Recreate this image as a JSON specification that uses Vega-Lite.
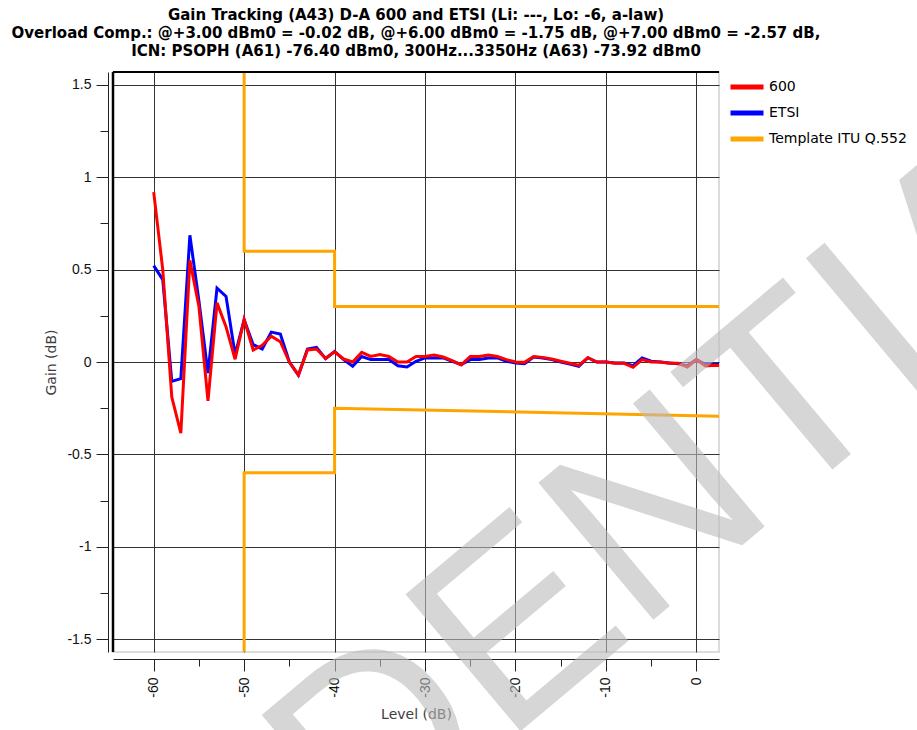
{
  "$schema": "https://vega.github.io/schema/vega-lite/v6.json",
  "width": 606,
  "height": 580,
  "autosize": {"type": "none"},
  "padding": {"left": 113, "top": 72, "right": 198, "bottom": 78},
  "background": "white",
  "title": {
    "text": [
      "Gain Tracking (A43) D-A 600 and ETSI (Li: ---, Lo: -6, a-law)",
      "Overload Comp.: @+3.00 dBm0 = -0.02 dB, @+6.00 dBm0 = -1.75 dB, @+7.00 dBm0 = -2.57 dB,",
      "ICN: PSOPH (A61) -76.40 dBm0, 300Hz...3350Hz (A63) -73.92 dBm0"
    ],
    "font": "DejaVu Sans",
    "fontSize": 15,
    "fontWeight": "bold",
    "color": "#000000",
    "lineHeight": 18,
    "offset": -58,
    "anchor": "middle"
  },
  "config": {
    "view": {"stroke": "#dcdcdc", "strokeWidth": 2},
    "axis": {
      "labelFont": "Liberation Sans",
      "labelFontSize": 14,
      "labelColor": "#111111",
      "titleFont": "DejaVu Sans",
      "titleFontSize": 14,
      "titleFontWeight": "normal",
      "titleColor": "#404040",
      "domainColor": "#222222",
      "tickColor": "#222222",
      "gridColor": "#333333",
      "gridWidth": 1
    },
    "legend": {
      "orient": "right",
      "offset": 2,
      "padding": 7,
      "symbolType": "stroke",
      "symbolStrokeWidth": 5,
      "symbolSize": 1089,
      "labelFont": "DejaVu Sans",
      "labelFontSize": 14,
      "labelColor": "#000000",
      "labelOffset": 3,
      "rowPadding": 10,
      "clipHeight": 16
    }
  },
  "datasets": {
    "d600": [
      {"level": -60, "gain": 0.92}, {"level": -59, "gain": 0.5}, {"level": -58, "gain": -0.19}, {"level": -57, "gain": -0.385},
      {"level": -56, "gain": 0.55}, {"level": -55, "gain": 0.3}, {"level": -54, "gain": -0.21}, {"level": -53, "gain": 0.32},
      {"level": -52, "gain": 0.19}, {"level": -51, "gain": 0.015}, {"level": -50, "gain": 0.23}, {"level": -49, "gain": 0.065},
      {"level": -48, "gain": 0.09}, {"level": -47, "gain": 0.14}, {"level": -46, "gain": 0.11}, {"level": -45, "gain": 0.0},
      {"level": -44, "gain": -0.07}, {"level": -43, "gain": 0.065}, {"level": -42, "gain": 0.07}, {"level": -41, "gain": 0.02},
      {"level": -40, "gain": 0.055}, {"level": -39, "gain": 0.016}, {"level": -38, "gain": 0.0}, {"level": -37, "gain": 0.052},
      {"level": -36, "gain": 0.03}, {"level": -35, "gain": 0.04}, {"level": -34, "gain": 0.03}, {"level": -33, "gain": 0.0},
      {"level": -32, "gain": 0.0}, {"level": -31, "gain": 0.03}, {"level": -30, "gain": 0.03}, {"level": -29, "gain": 0.038},
      {"level": -28, "gain": 0.027}, {"level": -27, "gain": 0.007}, {"level": -26, "gain": -0.016}, {"level": -25, "gain": 0.03},
      {"level": -24, "gain": 0.03}, {"level": -23, "gain": 0.038}, {"level": -22, "gain": 0.03}, {"level": -21, "gain": 0.013},
      {"level": -20, "gain": 0.0}, {"level": -19, "gain": -0.002}, {"level": -18, "gain": 0.03}, {"level": -17, "gain": 0.025},
      {"level": -16, "gain": 0.016}, {"level": -15, "gain": 0.004}, {"level": -14, "gain": -0.007}, {"level": -13, "gain": -0.018},
      {"level": -12, "gain": 0.023}, {"level": -11, "gain": 0.0}, {"level": -10, "gain": 0.0}, {"level": -9, "gain": -0.007},
      {"level": -8, "gain": -0.007}, {"level": -7, "gain": -0.029}, {"level": -6, "gain": 0.013}, {"level": -5, "gain": 0.0},
      {"level": -4, "gain": 0.0}, {"level": -3, "gain": -0.007}, {"level": -2, "gain": -0.007}, {"level": -1, "gain": -0.027},
      {"level": 0, "gain": 0.013}, {"level": 1, "gain": -0.022}, {"level": 2, "gain": -0.018}, {"level": 3, "gain": -0.02}
    ],
    "detsi": [
      {"level": -60, "gain": 0.522}, {"level": -59, "gain": 0.446}, {"level": -58, "gain": -0.105}, {"level": -57, "gain": -0.09},
      {"level": -56, "gain": 0.686}, {"level": -55, "gain": 0.33}, {"level": -54, "gain": -0.06}, {"level": -53, "gain": 0.4},
      {"level": -52, "gain": 0.355}, {"level": -51, "gain": 0.04}, {"level": -50, "gain": 0.229}, {"level": -49, "gain": 0.094},
      {"level": -48, "gain": 0.07}, {"level": -47, "gain": 0.162}, {"level": -46, "gain": 0.152}, {"level": -45, "gain": 0.0},
      {"level": -44, "gain": -0.072}, {"level": -43, "gain": 0.07}, {"level": -42, "gain": 0.079}, {"level": -41, "gain": 0.018},
      {"level": -40, "gain": 0.057}, {"level": -39, "gain": 0.013}, {"level": -38, "gain": -0.023}, {"level": -37, "gain": 0.03},
      {"level": -36, "gain": 0.013}, {"level": -35, "gain": 0.013}, {"level": -34, "gain": 0.013}, {"level": -33, "gain": -0.02},
      {"level": -32, "gain": -0.027}, {"level": -31, "gain": 0.004}, {"level": -30, "gain": 0.022}, {"level": -29, "gain": 0.022},
      {"level": -28, "gain": 0.022}, {"level": -27, "gain": 0.004}, {"level": -26, "gain": -0.014}, {"level": -25, "gain": 0.013},
      {"level": -24, "gain": 0.013}, {"level": -23, "gain": 0.022}, {"level": -22, "gain": 0.022}, {"level": -21, "gain": 0.004},
      {"level": -20, "gain": -0.005}, {"level": -19, "gain": -0.009}, {"level": -18, "gain": 0.027}, {"level": -17, "gain": 0.022},
      {"level": -16, "gain": 0.013}, {"level": -15, "gain": 0.0}, {"level": -14, "gain": -0.011}, {"level": -13, "gain": -0.023},
      {"level": -12, "gain": 0.023}, {"level": -11, "gain": 0.0}, {"level": -10, "gain": 0.0}, {"level": -9, "gain": -0.005},
      {"level": -8, "gain": -0.005}, {"level": -7, "gain": -0.02}, {"level": -6, "gain": 0.022}, {"level": -5, "gain": 0.004},
      {"level": -4, "gain": 0.0}, {"level": -3, "gain": -0.005}, {"level": -2, "gain": -0.009}, {"level": -1, "gain": -0.02},
      {"level": 0, "gain": 0.013}, {"level": 1, "gain": -0.014}, {"level": 2, "gain": -0.014}, {"level": 3, "gain": -0.014}
    ],
    "tmpl": [
      {"level": -50, "gain": 2.0, "part": "upper"}, {"level": -50, "gain": 0.6, "part": "upper"},
      {"level": -40, "gain": 0.6, "part": "upper"}, {"level": -40, "gain": 0.3, "part": "upper"},
      {"level": 3, "gain": 0.3, "part": "upper"},
      {"level": -50, "gain": -2.0, "part": "lower"}, {"level": -50, "gain": -0.6, "part": "lower"},
      {"level": -40, "gain": -0.6, "part": "lower"}, {"level": -40, "gain": -0.25, "part": "lower"},
      {"level": 3, "gain": -0.294, "part": "lower"}
    ],
    "one": [{"label": "CONFIDENTIAL"}]
  },
  "layer": [
    {
      "data": {"name": "tmpl"},
      "transform": [{"calculate": "'Template ITU Q.552'", "as": "series"}],
      "mark": {"type": "line", "strokeWidth": 3, "clip": true},
      "encoding": {
        "x": {
          "field": "level",
          "type": "quantitative",
          "scale": {"domain": [-64.5, 2.5], "nice": false, "zero": false},
          "axis": {
            "title": "Level (dB)",
            "values": [-60, -55, -50, -45, -40, -35, -30, -25, -20, -15, -10, -5, 0],
            "offset": 7,
            "labelAngle": 270,
            "labelPadding": 6,
            "labelExpr": "datum.value % 10 != 0 ? '' : '' + datum.value",
            "tickSize": {"condition": {"test": "datum.value % 10 != 0", "value": 7}, "value": 12},
            "gridOpacity": {"condition": {"test": "datum.value % 10 != 0", "value": 0}, "value": 1},
            "grid": true,
            "titlePadding": 10
          }
        },
        "y": {
          "field": "gain",
          "type": "quantitative",
          "scale": {"domain": [-1.57, 1.57], "nice": false, "zero": false},
          "axis": {
            "title": "Gain (dB)",
            "values": [-1.5, -1.25, -1, -0.75, -0.5, -0.25, 0, 0.25, 0.5, 0.75, 1, 1.25, 1.5],
            "offset": 5,
            "labelPadding": 5,
            "labelExpr": "datum.value % 0.5 != 0 ? '' : '' + datum.value",
            "tickSize": {"condition": {"test": "datum.value % 0.5 != 0", "value": 8}, "value": 12},
            "gridOpacity": {"condition": {"test": "datum.value % 0.5 != 0", "value": 0}, "value": 1},
            "grid": true,
            "titlePadding": 8
          }
        },
        "detail": {"field": "part"},
        "color": {
          "field": "series",
          "type": "nominal",
          "title": null,
          "scale": {"domain": ["600", "ETSI", "Template ITU Q.552"], "range": ["#ff0000", "#0000ff", "#ffa500"]}
        }
      }
    },
    {
      "data": {"name": "detsi"},
      "transform": [{"calculate": "'ETSI'", "as": "series"}],
      "mark": {"type": "line", "strokeWidth": 3, "clip": true},
      "encoding": {
        "x": {"field": "level", "type": "quantitative"},
        "y": {"field": "gain", "type": "quantitative"},
        "color": {"field": "series", "type": "nominal"}
      }
    },
    {
      "data": {"name": "d600"},
      "transform": [{"calculate": "'600'", "as": "series"}],
      "mark": {"type": "line", "strokeWidth": 3, "clip": true},
      "encoding": {
        "x": {"field": "level", "type": "quantitative"},
        "y": {"field": "gain", "type": "quantitative"},
        "color": {"field": "series", "type": "nominal"}
      }
    },
    {
      "data": {"name": "one"},
      "mark": {"type": "rule", "color": "#000000", "strokeWidth": 2.5},
      "encoding": {"x": {"datum": -64.5, "type": "quantitative"}}
    },
    {
      "data": {"name": "one"},
      "mark": {"type": "rule", "color": "#000000", "strokeWidth": 2},
      "encoding": {"y": {"datum": 1.57, "type": "quantitative"}}
    },
    {
      "data": {"name": "one"},
      "mark": {"type": "text", "font": "Liberation Sans", "fontSize": 260, "angle": -40, "align": "center", "baseline": "middle", "color": "#bbbbbb", "opacity": 0.6, "clip": false},
      "encoding": {
        "x": {"datum": -30.45, "type": "quantitative"},
        "y": {"datum": -1.9, "type": "quantitative"},
        "text": {"field": "label", "type": "nominal"}
      }
    }
  ]
}
